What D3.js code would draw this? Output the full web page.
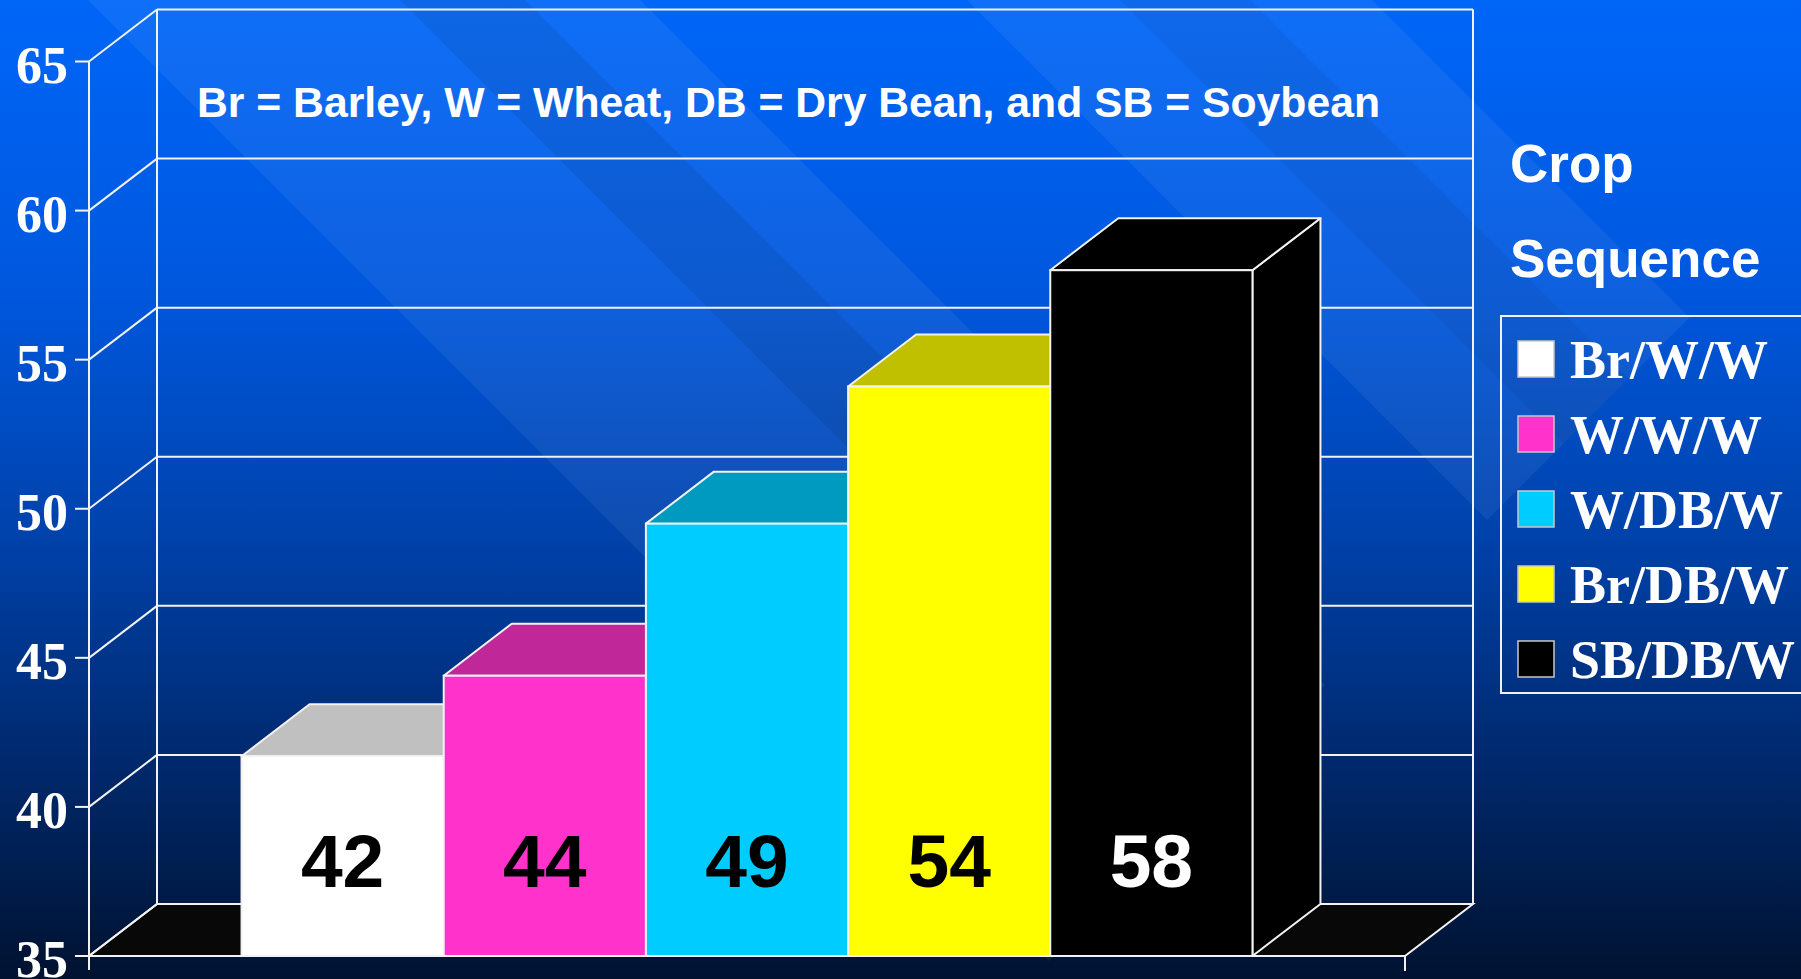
<!DOCTYPE html>
<html>
<head>
<meta charset="utf-8">
<script src="https://cdn.jsdelivr.net/npm/d3@7"></script>
<style>
    html, body { margin: 0; padding: 0; background: #001432; overflow: hidden; }
</style>
</head>
<body>
<div id="chart"></div>
<script>
// ==========================
// Data
// ==========================
const series = ["Br/W/W", "W/W/W", "W/DB/W", "Br/DB/W", "SB/DB/W"];
const values = [41.7, 44.4, 49.5, 54.1, 58.0];
const valueLabels = ["42", "44", "49", "54", "58"];
const yTicks = [35, 40, 45, 50, 55, 60, 65];
const note = "Br = Barley, W = Wheat, DB = Dry Bean, and SB = Soybean";
const legendTitle = ["Crop", "Sequence"];

// colours: front face, top/side face, label colour
const frontColors = ["#ffffff", "#ff33cc", "#00ccff", "#ffff00", "#000000"];
const topColors = ["#c0c0c0", "#c0289a", "#0099bf", "#c0c000", "#000000"];
const labelColors = ["#000", "#000", "#000", "#000", "#fff"];

const width = 1801, height = 979;

const svg = d3.select("#chart")
    .append("svg")
    .attr("width", width)
    .attr("height", height);

// ==========================
// Background (blue template)
// ==========================
const defs = svg.append("defs");
const bg = defs.append("linearGradient")
    .attr("id", "bg")
    .attr("x1", 0).attr("y1", 0).attr("x2", 0).attr("y2", 1);
[[0, "#0066f8"], [0.3, "#0057dd"], [0.55, "#0042aa"], [0.72, "#002f7c"], [1, "#001230"]]
    .forEach(([o, c]) => bg.append("stop").attr("offset", o).attr("stop-color", c));

svg.append("rect")
    .attr("width", width)
    .attr("height", height)
    .attr("fill", "url(#bg)");

// diagonal bands: x - y between a and b, cut at x + y = s
const bands = [
    { a: 88, b: 640, s: 2010, fill: "#ffffff", op: 0.06 },
    { a: 400, b: 525, s: 2010, fill: "#000000", op: 0.07 },
    { a: 967, b: 1372, s: 2007, fill: "#ffffff", op: 0.06 },
    { a: 1120, b: 1250, s: 2007, fill: "#000000", op: 0.05 }
];
svg.selectAll(".band")
    .data(bands)
    .enter()
    .append("polygon")
    .attr("class", "band")
    .attr("points", d => [
        [d.a - 200, -200], [d.b - 200, -200],
        [(d.s + d.b) / 2, (d.s - d.b) / 2], [(d.s + d.a) / 2, (d.s - d.a) / 2]
    ].join(" "))
    .attr("fill", d => d.fill)
    .attr("opacity", d => d.op);

// ==========================
// Scales (front plane)
// ==========================
const depth = { dx: 68, dy: -52 };
const y = d3.scaleLinear().domain([35, 65]).range([956, 61.5]);
const xOuter = d3.scaleBand().domain([""]).range([89, 1405]).paddingOuter(0.1509);
const x = d3.scaleBand().domain(series).range([xOuter(""), xOuter("") + xOuter.bandwidth()]);

const x0 = 89, x1 = 1405;
const line = "#f2f2f2";

// ==========================
// Walls, floor, gridlines
// ==========================
const walls = svg.append("g");

walls.append("polygon")
    .attr("points", [
        [x0, y(35)], [x1, y(35)],
        [x1 + depth.dx, y(35) + depth.dy], [x0 + depth.dx, y(35) + depth.dy]
    ].join(" "))
    .attr("fill", "#080808")
    .attr("stroke", line)
    .attr("stroke-width", 2);

// back wall gridlines
walls.selectAll(".grid")
    .data(yTicks)
    .enter()
    .append("line")
    .attr("x1", x0 + depth.dx)
    .attr("x2", x1 + depth.dx)
    .attr("y1", d => y(d) + depth.dy)
    .attr("y2", d => y(d) + depth.dy)
    .attr("stroke", line)
    .attr("stroke-width", 2);

// side wall diagonals
walls.selectAll(".diag")
    .data(yTicks)
    .enter()
    .append("line")
    .attr("x1", x0)
    .attr("y1", d => y(d))
    .attr("x2", x0 + depth.dx)
    .attr("y2", d => y(d) + depth.dy)
    .attr("stroke", line)
    .attr("stroke-width", 2);

// back wall verticals
[x0 + depth.dx, x1 + depth.dx].forEach(xx => {
    walls.append("line")
        .attr("x1", xx).attr("x2", xx)
        .attr("y1", y(65) + depth.dy)
        .attr("y2", y(35) + depth.dy)
        .attr("stroke", line)
        .attr("stroke-width", 2);
});

// ==========================
// Bars (left to right so the next front face hides the side)
// ==========================
const bars = svg.append("g");
series.forEach((s, i) => {
    const bx = x(s), bw = x.bandwidth();
    const top = y(values[i]), base = y(35);
    const g = bars.append("g");

    g.append("polygon")
        .attr("points", [
            [bx + bw, base], [bx + bw + depth.dx, base + depth.dy],
            [bx + bw + depth.dx, top + depth.dy], [bx + bw, top]
        ].join(" "))
        .attr("fill", topColors[i])
        .attr("stroke", line)
        .attr("stroke-width", 2)
        .attr("stroke-linejoin", "round");

    g.append("polygon")
        .attr("points", [
            [bx, top], [bx + bw, top],
            [bx + bw + depth.dx, top + depth.dy], [bx + depth.dx, top + depth.dy]
        ].join(" "))
        .attr("fill", topColors[i])
        .attr("stroke", line)
        .attr("stroke-width", 2)
        .attr("stroke-linejoin", "round");

    g.append("rect")
        .attr("x", bx)
        .attr("y", top)
        .attr("width", bw)
        .attr("height", base - top)
        .attr("fill", frontColors[i])
        .attr("stroke", line)
        .attr("stroke-width", 2);
});

// value labels
svg.selectAll(".val")
    .data(series)
    .enter()
    .append("text")
    .attr("class", "val")
    .attr("x", d => x(d) + x.bandwidth() / 2)
    .attr("y", 887)
    .attr("text-anchor", "middle")
    .attr("font-family", "'Liberation Sans', Arial, sans-serif")
    .attr("font-weight", "bold")
    .attr("font-size", 75)
    .attr("fill", (d, i) => labelColors[i])
    .text((d, i) => valueLabels[i]);

// ==========================
// Front axis
// ==========================
const axis = svg.append("g");
axis.append("line")
    .attr("x1", x0).attr("x2", x0)
    .attr("y1", y(65)).attr("y2", y(35) + 14)
    .attr("stroke", line)
    .attr("stroke-width", 2);

axis.append("line")
    .attr("x1", x1).attr("x2", x1)
    .attr("y1", y(35)).attr("y2", y(35) + 15)
    .attr("stroke", line)
    .attr("stroke-width", 2);

axis.selectAll(".tick")
    .data(yTicks)
    .enter()
    .append("line")
    .attr("x1", x0 - 14).attr("x2", x0)
    .attr("y1", d => y(d)).attr("y2", d => y(d))
    .attr("stroke", line)
    .attr("stroke-width", 2);

axis.selectAll(".tlab")
    .data(yTicks)
    .enter()
    .append("text")
    .attr("x", 68)
    .attr("y", d => y(d) + 21)
    .attr("text-anchor", "end")
    .attr("font-family", "'Liberation Serif', 'Times New Roman', serif")
    .attr("font-weight", "bold")
    .attr("font-size", 52)
    .attr("fill", "#fff")
    .text(d => d);

// ==========================
// Note and legend
// ==========================
svg.append("text")
    .attr("x", 197)
    .attr("y", 117)
    .attr("font-family", "'Liberation Sans', Arial, sans-serif")
    .attr("font-weight", "bold")
    .attr("font-size", 42.7)
    .attr("fill", "#fff")
    .text(note);

svg.selectAll(".ltitle")
    .data(legendTitle)
    .enter()
    .append("text")
    .attr("x", 1510)
    .attr("y", (d, i) => 182 + i * 95)
    .attr("font-family", "'Liberation Sans', Arial, sans-serif")
    .attr("font-weight", "bold")
    .attr("font-size", 53)
    .attr("fill", "#fff")
    .text(d => d);

const legend = svg.append("g");
legend.append("rect")
    .attr("x", 1501)
    .attr("y", 316)
    .attr("width", 320)
    .attr("height", 377)
    .attr("fill", "none")
    .attr("stroke", line)
    .attr("stroke-width", 2);

const item = legend.selectAll(".item")
    .data(series)
    .enter()
    .append("g")
    .attr("transform", (d, i) => `translate(1518, ${341 + i * 75})`);

item.append("rect")
    .attr("width", 36)
    .attr("height", 36)
    .attr("fill", (d, i) => frontColors[i])
    .attr("stroke", "#c8c8c8")
    .attr("stroke-width", 1.5);

item.append("text")
    .attr("x", 52)
    .attr("y", 37)
    .attr("font-family", "'Liberation Serif', 'Times New Roman', serif")
    .attr("font-weight", "bold")
    .attr("font-size", 54)
    .attr("fill", "#fff")
    .text(d => d);
</script>
</body>
</html>
